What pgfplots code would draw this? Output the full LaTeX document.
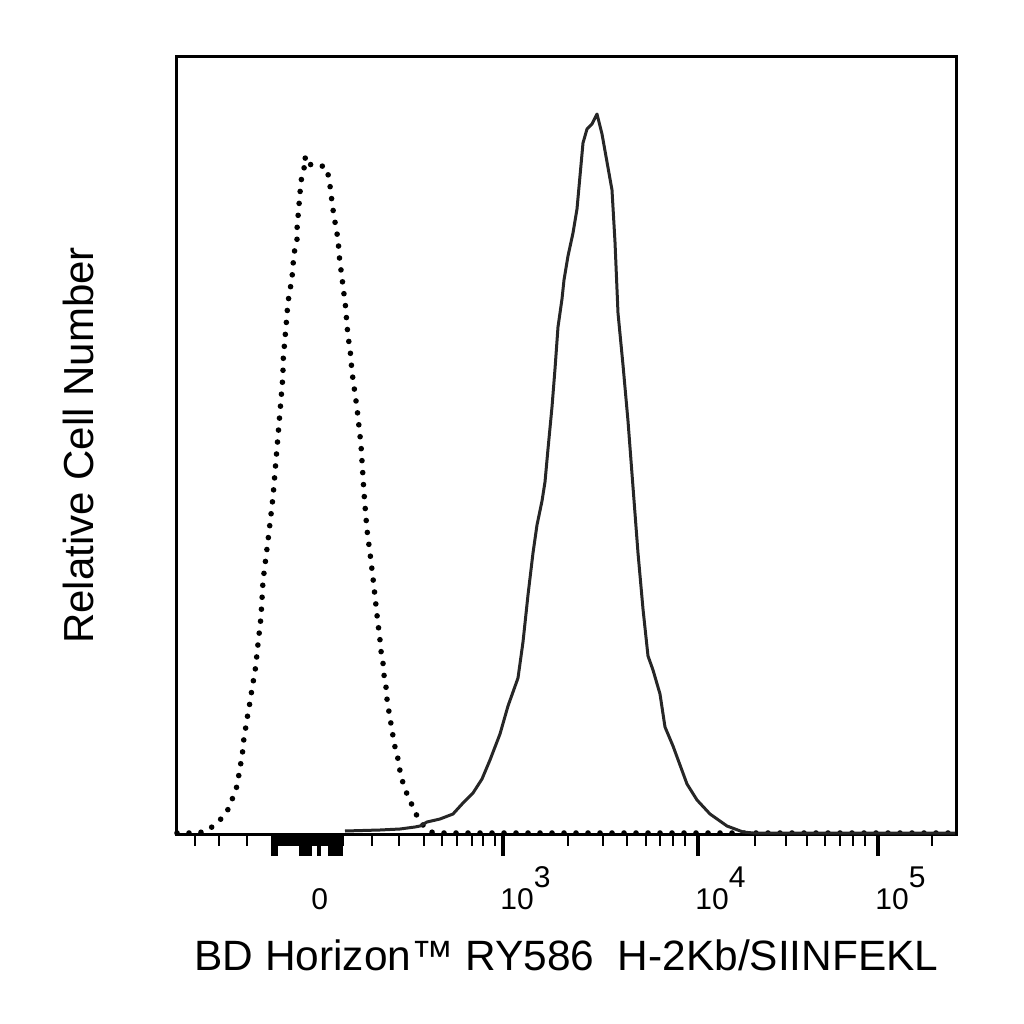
\documentclass[border=0pt]{standalone}
\usepackage{fontspec}
\setmainfont{Liberation Sans}
\usepackage{pgfplots}
\pgfplotsset{compat=1.18}
\begin{document}
\begin{tikzpicture}
\useasboundingbox (-88.25pt,-94.75pt) rectangle (423.75pt,417.25pt);
\begin{axis}[
  at={(0,0)}, anchor=south west,
  scale only axis, width=390pt, height=389pt,
  xmin=176.5, xmax=956.5, ymin=0, ymax=778,
  clip=false,
  axis line style={line width=1.5pt, black},
  ytick=\empty,
  xtick pos=bottom,
  tick align=outside,
  xtick={305,503,698,878},
  xticklabels={\hspace*{4.5pt}0, 10\raisebox{11pt}{3}, 10\raisebox{11pt}{4}, 10\raisebox{11pt}{5}},
  minor xtick={195,219,247,
    273,275,277,279,281,283,285,287,289,291,293,295,297,299,301,303,305,307,309,311,313,315,317,319,321,323,325,327,329,331,333,335,337,339,341,343,
    372,399,424,442,457,472,483,495,568,603,627,646,660,673,685,755,786,807,825,840,853,865,932},
  extra x ticks={273,276,301,304,307,310,319,330,333,336,339,341},
  extra x tick labels={},
  extra x tick style={xticklabel={}},
  major tick length=10.5pt,
  minor tick length=5.5pt,
  every major tick/.append style={line width=2pt, black},
  every minor tick/.append style={line width=1.2pt, black},
  xticklabel style={anchor=base west, inner sep=0pt, xshift=-1.5pt, yshift=-27pt,
    font=\fontsize{15}{17}\selectfont},
  xlabel={BD Horizon™ RY586\ \ H-2Kb/SIINFEKL},
  ylabel={Relative Cell Number},
  xlabel style={at={(axis description cs:0.5,-0.1742)}, anchor=base, inner sep=0pt,
    font=\fontsize{21.2}{24}\selectfont},
  ylabel style={at={(axis description cs:-0.1058,0.5)}, anchor=base, inner sep=0pt,
    font=\fontsize{21}{24}\selectfont},
]
% isotype control (dotted)
\addplot[black, line width=2.8pt, line cap=round, dash pattern=on 0pt off 6pt, line join=round]
coordinates {
(177,1.5)(195,1.5)(203,2.5)(212,7.5)(222,16.5)(229,26.5)(233,37.5)(237,48.5)(239,60.5)(241,72.5)
(243,85.5)(244,97.5)(246,108.5)(248,121.5)(250,132.5)(252,145.5)(254,157.5)(256,169.5)(257,181.5)
(261,217.5)(263,253.5)(266,277.5)(269,302.5)(273,337.5)(276,374.5)(280,422.5)(283,459.5)(283,472.5)
(284,484.5)(285,496.5)(286,507.5)(287,520.5)(288,532.5)(290,544.5)(292,556.5)(293,568.5)(294,581.5)
(297,592.5)(297,605.5)(298,617.5)(299,629.5)(300,641.5)(301,653.5)(304,665.5)(305,677.5)(307,668.5)
(312,670.5)(317,669.5)(322,668.5)(327,666.5)(329,654.5)(331,642.5)(332,631.5)(334,618.5)(336,606.5)
(338,595.5)(339,582.5)(340,570.5)(342,558.5)(343,546.5)(345,534.5)(346,521.5)(347,510.5)(348,497.5)
(350,486.5)(351,474.5)(352,462.5)(357,426.5)(361,389.5)(364,341.5)(367,304.5)(370,281.5)(373,256.5)
(377,219.5)(380,194.5)(381,183.5)(383,171.5)(384,159.5)(386,147.5)(387,135.5)(389,122.5)(391,110.5)
(393,98.5)(395,87.5)(398,75.5)(400,63.5)(403,51.5)(407,40.5)(412,29.5)(417,18.5)(423,9.5)(430,2.5)
(440,1.5)(955,1.5)
};
% stained sample (solid)
\addplot[black!85, line width=1.5pt, line join=round]
coordinates {
(345,3.5)(380,4.5)(400,5.5)(415,7.5)(420,8.5)(427,12.5)(440,15.5)(453,20.5)(463,31.5)(473,41.5)
(482,55.5)(490,74.5)(500,100.5)(508,128.5)(518,156.5)(523,192.5)(528,239.5)(533,281.5)(537,309.5)
(542,333.5)(545,352.5)(548,385.5)(552,427.5)(555,465.5)(558,507.5)(562,535.5)(564,554.5)(568,578.5)
(573,601.5)(577,625.5)(580,658.5)(583,691.5)(587,705.5)(592,710.5)(597,720.5)(602,700.5)(607,672.5)
(612,644.5)(615,592.5)(618,521.5)(623,469.5)(628,413.5)(633,347.5)(638,281.5)(643,225.5)(648,178.5)
(653,164.5)(660,140.5)(665,107.5)(673,88.5)(680,69.5)(687,50.5)(697,34.5)(710,20.5)(727,8.5)
(743,2.5)(753,1.5)(955,1.5)
};
\end{axis}
\end{tikzpicture}
\end{document}
